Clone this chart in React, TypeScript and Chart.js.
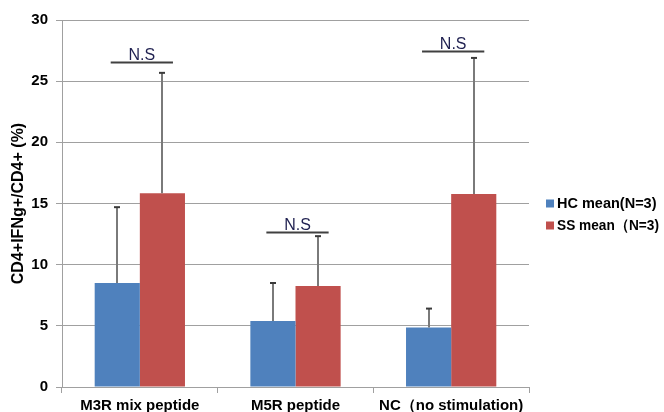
import React, { useEffect, useRef } from "react";
import { Chart, registerables } from "chart.js";

Chart.register(...registerables);

const categories = ["M3R mix peptide", "M5R peptide", "NC\uFF08no stimulation)"];
const hcMean = [8.5, 5.4, 4.86];
const ssMean = [15.83, 8.26, 15.77];
const hcErr = [6.2, 3.1, 1.55];
const ssErr = [9.85, 4.07, 11.13];
const seriesLabels = ["HC mean(N=3)", "SS mean\uFF08N=3)"];
const sigLabels = ["N.S", "N.S", "N.S"];
const sigLevels = [26.6, 12.7, 27.5];
const yTicks = [0, 5, 10, 15, 20, 25, 30];

const FONT = "Arial, 'Liberation Sans', sans-serif";

const errorBarPlugin = {
  id: "errorBars",
  afterDatasetsDraw(chart: any) {
    const ctx = chart.ctx;
    const y = chart.scales.y;
    const errs = [hcErr, ssErr];
    const means = [hcMean, ssMean];
    ctx.save();
    for (let d = 0; d < 2; d++) {
      const meta = chart.getDatasetMeta(d);
      meta.data.forEach((bar: any, i: number) => {
        const x = Math.round(bar.x);
        const yTop = y.getPixelForValue(means[d][i] + errs[d][i]);
        const yBase = y.getPixelForValue(means[d][i]);
        ctx.strokeStyle = "#7a7a7a";
        ctx.lineWidth = 2;
        ctx.beginPath();
        ctx.moveTo(x, yBase);
        ctx.lineTo(x, yTop);
        ctx.stroke();
        ctx.strokeStyle = "#3a3a3a";
        ctx.lineWidth = 2;
        ctx.beginPath();
        ctx.moveTo(x - 3, yTop);
        ctx.lineTo(x + 3, yTop);
        ctx.stroke();
      });
    }
    ctx.restore();
  },
};

const sigPlugin = {
  id: "sigMarks",
  afterDatasetsDraw(chart: any) {
    const ctx = chart.ctx;
    const xs = chart.scales.x;
    const y = chart.scales.y;
    ctx.save();
    sigLabels.forEach((lab, i) => {
      const cx = xs.getPixelForValue(i) + 2;
      const catW = xs.width / categories.length;
      const half = catW * 0.2;
      const ly = Math.round(y.getPixelForValue(sigLevels[i])) + 0.5;
      ctx.strokeStyle = "#404040";
      ctx.lineWidth = 2;
      ctx.beginPath();
      ctx.moveTo(cx - half, ly);
      ctx.lineTo(cx + half, ly);
      ctx.stroke();
      ctx.fillStyle = "#1f2050";
      ctx.font = `16px ${FONT}`;
      ctx.textAlign = "center";
      ctx.textBaseline = "alphabetic";
      ctx.fillText(lab, cx, ly - 3);
    });
    ctx.restore();
  },
};

const legendPlugin = {
  id: "customLegend",
  afterDraw(chart: any) {
    const ctx = chart.ctx;
    const area = chart.chartArea;
    ctx.save();
    const ds = chart.data.datasets;
    const startY = (area.top + area.bottom) / 2 + 0;
    ds.forEach((d: any, i: number) => {
      const yy = startY + i * 22;
      ctx.fillStyle = d.backgroundColor;
      ctx.fillRect(area.right + 17, yy - 4, 8, 8);
      ctx.fillStyle = "#000";
      ctx.font = `bold 14.5px ${FONT}`;
      ctx.textAlign = "left";
      ctx.textBaseline = "middle";
      ctx.fillText(d.label, area.right + 28, yy, 102);
    });
    ctx.restore();
  },
};

export default function App() {
  const ref = useRef<HTMLCanvasElement>(null);
  useEffect(() => {
    document.body.style.margin = "0";
    const chart = new Chart(ref.current!, {
      type: "bar",
      data: {
        labels: categories,
        datasets: [
          { label: seriesLabels[0], data: hcMean, backgroundColor: "#4f81bd" },
          { label: seriesLabels[1], data: ssMean, backgroundColor: "#c0504d" },
        ],
      },
      options: {
        animation: false,
        responsive: false,
        devicePixelRatio: 1,
        layout: { padding: { top: 20, right: 135, bottom: 0, left: 0 } },
        datasets: { bar: { barPercentage: 1, categoryPercentage: 0.58 } },
        plugins: { legend: { display: false }, tooltip: { enabled: false } },
        scales: {
          x: {
            grid: { drawOnChartArea: false, drawTicks: true, tickLength: 6, offset: true, color: "#a0a0a0" },
            border: { color: "#a0a0a0", width: 1 },
            ticks: { color: "#000", font: { family: FONT, size: 15, weight: "bold" }, padding: 4, maxRotation: 0, autoSkip: false },
            afterFit(s: any) { s.height = 25; },
          },
          y: {
            min: 0,
            max: 30,
            afterBuildTicks(s: any) { s.ticks = yTicks.map((v) => ({ value: v })); },
            grid: { color: "#a0a0a0", tickLength: 6 },
            border: { color: "#a0a0a0", width: 1 },
            ticks: { color: "#000", font: { family: FONT, size: 15, weight: "bold" }, padding: 8 },
            title: {
              display: true,
              text: "CD4+IFNg+/CD4+ (%)",
              color: "#000",
              font: { family: FONT, size: 16, weight: "bold" },
              padding: { top: 9, bottom: 0 },
            },
            afterFit(s: any) { s.width = 62; },
          },
        },
      },
      plugins: [errorBarPlugin, sigPlugin, legendPlugin],
    } as any);
    return () => chart.destroy();
  }, []);
  return (
    <div style={{ width: 664, height: 412, background: "#fff" }}>
      <canvas ref={ref} width={664} height={412} style={{ display: "block" }} />
    </div>
  );
}
